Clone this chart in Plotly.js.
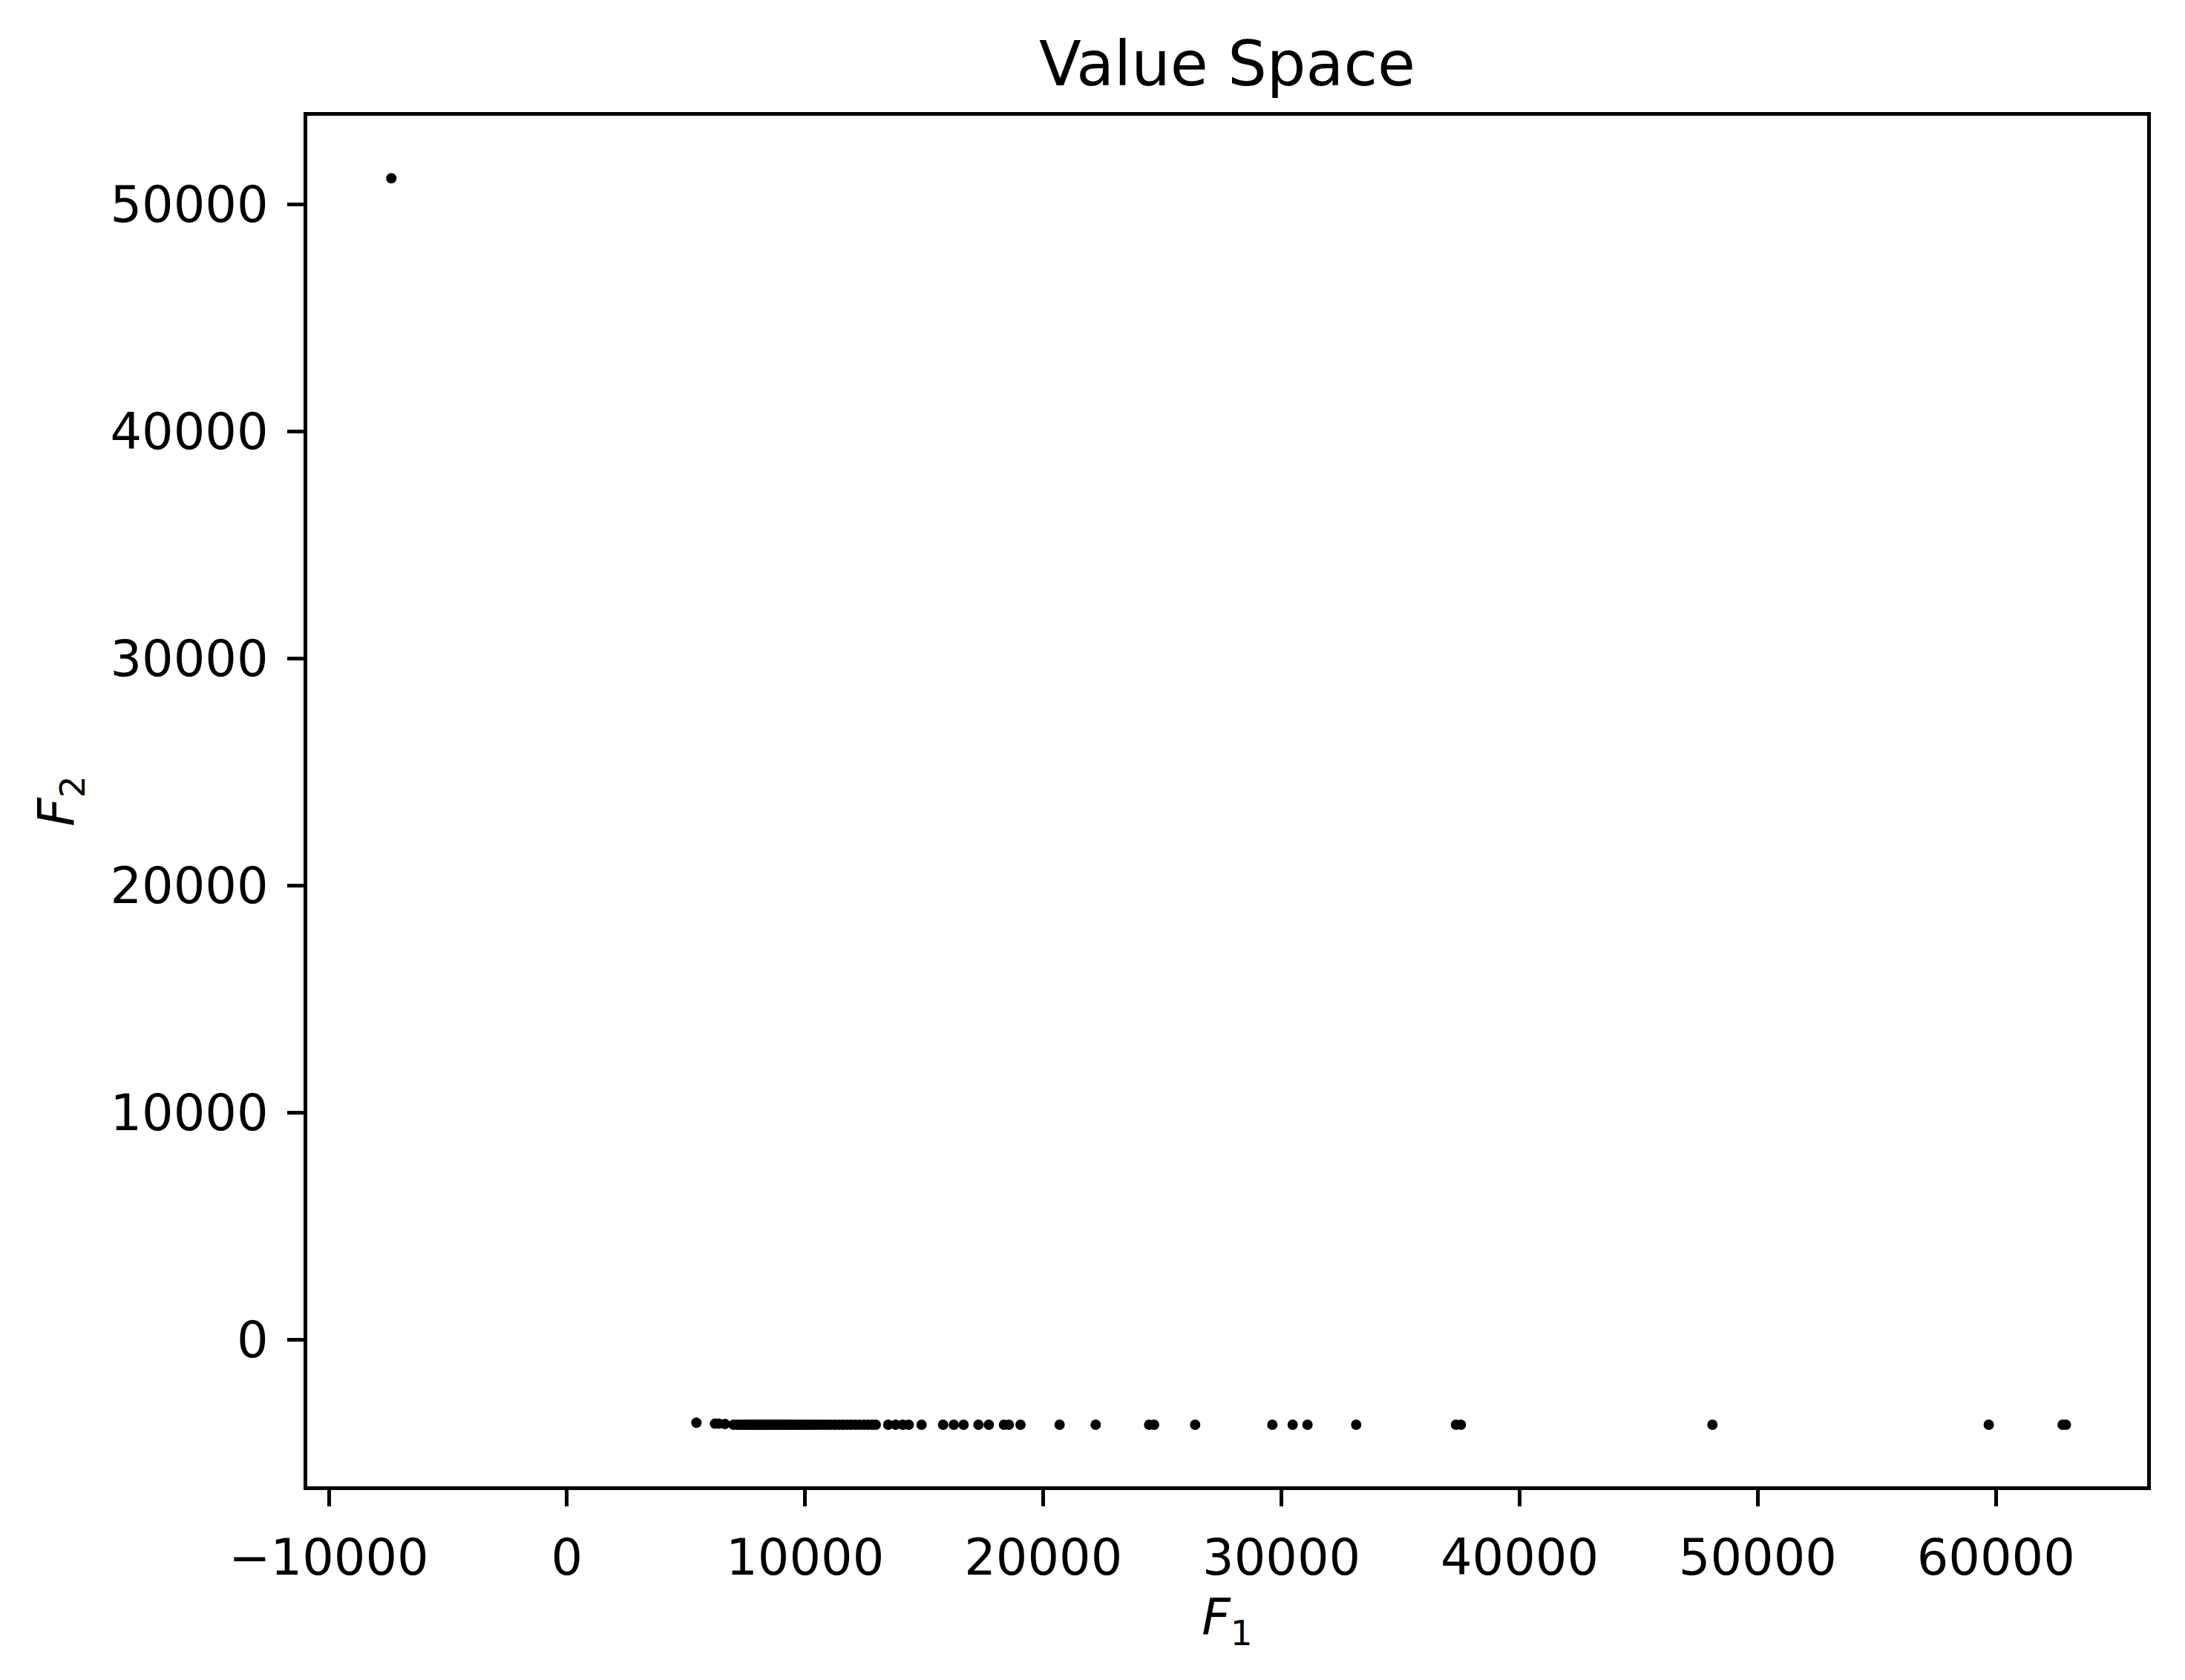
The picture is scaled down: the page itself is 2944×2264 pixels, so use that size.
<!DOCTYPE html>
<html>
<head>
<meta charset="utf-8">
<script src="https://cdn.plot.ly/plotly-3.0.1.min.js"></script>
<style>html,body{margin:0;padding:0;background:#fff;}#chart{width:2944px;height:2264px;}</style>
</head>
<body>
<div id="chart"></div>
<script>
// Value-space points (F1, F2)
const f1 = [
  -7373, 5435, 6214, 6370, 6630,
  6993, 7150, 7280, 7400, 7520, 7610, 7700, 7800, 7890, 7980, 8060, 8150, 8240, 8320,
  8400, 8490, 8580, 8660, 8750, 8840, 8930, 9020, 9110, 9200, 9300, 9410, 9520, 9640,
  9760, 9890, 10020, 10160, 10300, 10450, 10600, 10760, 10920, 11080, 11250, 11420,
  11590, 11760, 11930, 12110, 12290, 12470, 12640, 12810, 12967,
  13487, 13800, 14100, 14350, 14889, 15793, 16240, 16653, 17277, 17713, 18348, 18554, 19043,
  20685, 22200, 24444, 24652, 26376, 29617, 30471, 31094, 33138,
  37326, 37533, 48096, 59698, 62800, 62936
];
const f2 = [
  51167, -3647, -3690, -3690, -3700,
  -3735, -3735, -3735, -3735, -3735, -3735, -3735, -3735, -3735, -3735, -3735, -3735, -3735, -3735,
  -3735, -3735, -3735, -3735, -3735, -3735, -3735, -3735, -3735, -3735, -3735, -3735, -3735, -3735,
  -3735, -3735, -3735, -3735, -3735, -3735, -3735, -3735, -3735, -3735, -3735, -3735,
  -3735, -3735, -3735, -3735, -3735, -3735, -3735, -3735, -3735,
  -3735, -3735, -3735, -3735, -3735, -3735, -3735, -3735, -3735, -3735, -3735, -3735, -3735,
  -3735, -3735, -3735, -3735, -3735, -3735, -3735, -3735, -3735,
  -3735, -3735, -3735, -3735, -3735, -3735
];
const xTicks = [-10000, 0, 10000, 20000, 30000, 40000, 50000, 60000];
const xTickLabels = ['\u221210000', '0', '10000', '20000', '30000', '40000', '50000', '60000'];
const yTicks = [0, 10000, 20000, 30000, 40000, 50000];
const yTickLabels = ['0', '10000', '20000', '30000', '40000', '50000'];

const font = {family: 'DejaVu Sans', color: '#000'};

const trace = {
  x: f1, y: f2, type: 'scatter', mode: 'markers',
  marker: {color: '#000', size: 14, line: {width: 0}},
  hoverinfo: 'skip'
};

const axisCommon = {
  showgrid: false, zeroline: false, showline: true, mirror: true,
  linecolor: '#000', linewidth: 5,
  ticks: 'outside', ticklen: 22, tickwidth: 5, tickcolor: '#000',
  tickfont: Object.assign({size: 67}, font),
  tickmode: 'array'
};

const layout = {
  width: 2944, height: 2264,
  paper_bgcolor: '#fff', plot_bgcolor: '#fff',
  margin: {l: 414, r: 51, t: 156, b: 261, pad: 0},
  showlegend: false,
  font: font,
  title: {
    text: 'Value Space',
    font: Object.assign({size: 83}, font),
    x: 0.5, xref: 'paper', xanchor: 'center',
    y: 1 - 86 / 2264, yref: 'container', yanchor: 'middle'
  },
  xaxis: Object.assign({}, axisCommon, {
    range: [-10904, 66348], tickvals: xTicks, ticktext: xTickLabels,
    ticklabelstandoff: 12,
    title: {text: '<i>F</i><sub>1</sub>', font: Object.assign({size: 67}, font), standoff: 20}
  }),
  yaxis: Object.assign({}, axisCommon, {
    range: [-6448, 53922], tickvals: yTicks, ticktext: yTickLabels,
    ticklabelstandoff: 12,
    title: {text: '<i>F</i><sub>2</sub>', font: Object.assign({size: 67}, font), standoff: 28}
  })
};

Plotly.newPlot('chart', [trace], layout, {staticPlot: true, displayModeBar: false});
</script>
</body>
</html>
